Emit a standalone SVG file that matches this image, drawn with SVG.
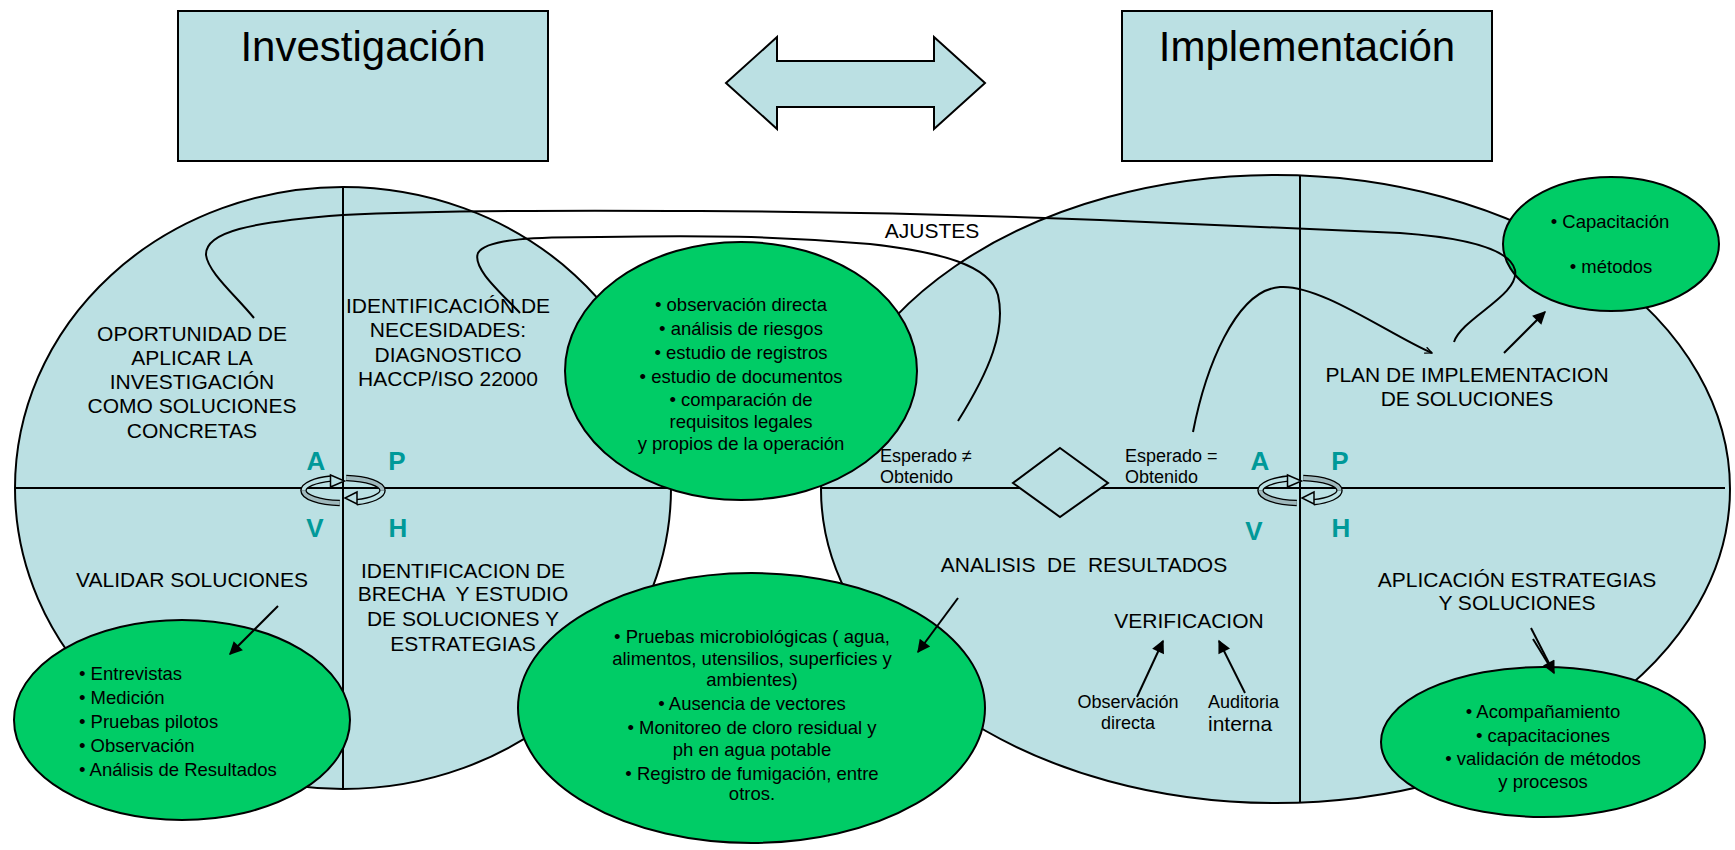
<svg xmlns="http://www.w3.org/2000/svg" width="1735" height="850" viewBox="0 0 1735 850">
<defs>
<style>
text{font-family:'Liberation Sans',Arial,sans-serif;fill:#000}
.c{text-anchor:middle}
.f42{font-size:42px}
.f21{font-size:21px}
.f18{font-size:18.5px}
.f17{font-size:18px}
.pdca{font-size:26px;font-weight:bold;fill:#009999;text-anchor:middle}
.lb{fill:#BBE0E3;stroke:#000;stroke-width:2}
.gr{fill:#00CC66;stroke:#000;stroke-width:2}
.ln{stroke:#000;stroke-width:2;fill:none}
.cn{stroke:#000;stroke-width:2;fill:none}
.ar{stroke:#000;stroke-width:2;fill:none;marker-end:url(#ah)}
</style>
<marker id="ah" viewBox="0 0 10 10" refX="9" refY="5" markerWidth="15" markerHeight="13" markerUnits="userSpaceOnUse" orient="auto">
<path d="M0,0 L10,5 L0,10 z" fill="#000"/>
</marker>
<marker id="ao" viewBox="0 0 10 10" refX="9" refY="5" markerWidth="9" markerHeight="8" markerUnits="userSpaceOnUse" orient="auto">
<path d="M0,1 L9,5 L0,9" fill="none" stroke="#000" stroke-width="1.6"/>
</marker>
<g id="cyc">
<path d="M-3.2,13 A39.5,12.5 0 0 1 -39.5,0.5 A39.5,12.5 0 0 1 -12,-11.4" fill="none" stroke="#000" stroke-width="6.5"/>
<path d="M3.2,-12 A39.5,12.5 0 0 1 39.5,0.5 A39.5,12.5 0 0 1 13.5,12.2" fill="none" stroke="#000" stroke-width="6.5"/>
<path d="M-3.2,13 A39.5,12.5 0 0 1 -39.5,0.5" fill="none" stroke="#9FB8BC" stroke-width="3.8"/>
<path d="M-39.5,0.5 A39.5,12.5 0 0 1 -12,-11.4" fill="none" stroke="#BBE0E3" stroke-width="3.8"/>
<path d="M3.2,-12 A39.5,12.5 0 0 1 39.5,0.5" fill="none" stroke="#9FB8BC" stroke-width="3.8"/>
<path d="M39.5,0.5 A39.5,12.5 0 0 1 13.5,12.2" fill="none" stroke="#BBE0E3" stroke-width="3.8"/>
<polygon points="-12.5,-15 1.5,-9 -12.5,-3" fill="#BBE0E3" stroke="#000" stroke-width="1.5"/>
<polygon points="14,2 2,8 14,14" fill="#BBE0E3" stroke="#000" stroke-width="1.5"/>
</g>
</defs>
<rect width="1735" height="850" fill="#fff"/>

<g id="box-investigacion">
<rect class="lb" x="178" y="11" width="370" height="150"/>
<text class="c f42" x="363" y="61">Investigación</text>
</g>
<g id="box-implementacion">
<rect class="lb" x="1122" y="11" width="370" height="150"/>
<text class="c f42" x="1307" y="61">Implementación</text>
</g>
<g id="double-arrow">
<polygon class="lb" points="726,83 777,37 777,61 934,61 934,37 985,83 934,129 934,107 777,107 777,129"/>
</g>

<g id="ciclo-investigacion">
<ellipse class="lb" cx="343" cy="488" rx="328" ry="301"/>
<line class="ln" x1="15" y1="488" x2="671" y2="488"/>
<line class="ln" x1="343" y1="187" x2="343" y2="789"/>
<text class="c f21" x="192" y="340.5">OPORTUNIDAD DE</text>
<text class="c f21" x="192" y="364.5">APLICAR LA</text>
<text class="c f21" x="192" y="388.5">INVESTIGACIÓN</text>
<text class="c f21" x="192" y="412.5">COMO SOLUCIONES</text>
<text class="c f21" x="192" y="437.5">CONCRETAS</text>
<text class="c f21" x="448" y="312.5">IDENTIFICACIÓN DE</text>
<text class="c f21" x="448" y="336.5">NECESIDADES:</text>
<text class="c f21" x="448" y="361.5">DIAGNOSTICO</text>
<text class="c f21" x="448" y="385.5">HACCP/ISO 22000</text>
<text class="c f21" x="192" y="586.5">VALIDAR SOLUCIONES</text>
<text class="c f21" x="463" y="577.5">IDENTIFICACION DE</text>
<text class="c f21" x="463" y="600.5" xml:space="preserve">BRECHA  Y ESTUDIO</text>
<text class="c f21" x="463" y="625.5">DE SOLUCIONES Y</text>
<text class="c f21" x="463" y="650.5">ESTRATEGIAS</text>
<text class="pdca" x="316" y="470">A</text>
<text class="pdca" x="397" y="470">P</text>
<text class="pdca" x="315" y="537">V</text>
<text class="pdca" x="398" y="537">H</text>
<use href="#cyc" transform="translate(343,490)"/>
</g>

<g id="ciclo-implementacion">
<ellipse class="lb" cx="1275.5" cy="489" rx="454.5" ry="314"/>
<line class="ln" x1="821" y1="488" x2="1725" y2="488"/>
<line class="ln" x1="1300" y1="176" x2="1300" y2="802"/>
<text class="f17" x="880" y="461.5">Esperado ≠</text>
<text class="f17" x="880" y="482.5">Obtenido</text>
<text class="f17" x="1125" y="461.5">Esperado =</text>
<text class="f17" x="1125" y="482.5">Obtenido</text>
<text class="c f21" x="1084" y="571.5" xml:space="preserve">ANALISIS  DE  RESULTADOS</text>
<text class="c f21" x="1189" y="627.5">VERIFICACION</text>
<text class="c f17" x="1128" y="707.5">Observación</text>
<text class="c f17" x="1128" y="728.5">directa</text>
<text class="f17" x="1208" y="707.5">Auditoria</text>
<text class="f21" x="1208" y="730.5">interna</text>
<text class="c f21" x="1467" y="381.5">PLAN DE IMPLEMENTACION</text>
<text class="c f21" x="1467" y="405.5">DE SOLUCIONES</text>
<text class="c f21" x="1517" y="586.5">APLICACIÓN ESTRATEGIAS</text>
<text class="c f21" x="1517" y="609.5">Y SOLUCIONES</text>
<text class="pdca" x="1260" y="470">A</text>
<text class="pdca" x="1340" y="470">P</text>
<text class="pdca" x="1254" y="540">V</text>
<text class="pdca" x="1341" y="537">H</text>
<use href="#cyc" transform="translate(1300,490)"/>
</g>

<g id="decision">
<polygon class="lb" points="1060,448 1108,483 1060,517 1013,483"/>
</g>

<g id="diagnostico">
<ellipse class="gr" cx="741" cy="371" rx="176" ry="129"/>
<text class="c f18" x="741" y="310.6">• observación directa</text>
<text class="c f18" x="741" y="334.6">• análisis de riesgos</text>
<text class="c f18" x="741" y="358.6">• estudio de registros</text>
<text class="c f18" x="741" y="382.6">• estudio de documentos</text>
<text class="c f18" x="741" y="405.6">• comparación de</text>
<text class="c f18" x="741" y="427.6">requisitos legales</text>
<text class="c f18" x="741" y="449.6">y propios de la operación</text>
</g>

<g id="pruebas">
<ellipse class="gr" cx="751.5" cy="708" rx="233.5" ry="135"/>
<text class="c f18" x="752" y="642.6">• Pruebas microbiológicas ( agua,</text>
<text class="c f18" x="752" y="664.6">alimentos, utensilios, superficies y</text>
<text class="c f18" x="752" y="685.6">ambientes)</text>
<text class="c f18" x="752" y="709.6">• Ausencia de vectores</text>
<text class="c f18" x="752" y="733.6">• Monitoreo de cloro residual y</text>
<text class="c f18" x="752" y="755.6">ph en agua potable</text>
<text class="c f18" x="752" y="779.6">• Registro de fumigación, entre</text>
<text class="c f18" x="752" y="799.6">otros.</text>
</g>

<g id="validacion">
<ellipse class="gr" cx="182" cy="720" rx="168" ry="100"/>
<text class="f18" x="79" y="679.6">• Entrevistas</text>
<text class="f18" x="79" y="703.6">• Medición</text>
<text class="f18" x="79" y="727.6">• Pruebas pilotos</text>
<text class="f18" x="79" y="751.6">• Observación</text>
<text class="f18" x="79" y="775.6">• Análisis de Resultados</text>
</g>

<g id="capacitacion">
<ellipse class="gr" cx="1611" cy="244" rx="108" ry="67"/>
<text class="c f18" x="1610" y="227.6">• Capacitación</text>
<text class="c f18" x="1611" y="272.6">• métodos</text>
</g>

<g id="acompanamiento">
<ellipse class="gr" cx="1543" cy="742" rx="162" ry="75"/>
<text class="c f18" x="1543" y="717.6">• Acompañamiento</text>
<text class="c f18" x="1543" y="741.6">• capacitaciones</text>
<text class="c f18" x="1543" y="764.6">• validación de métodos</text>
<text class="c f18" x="1543" y="787.6">y procesos</text>
</g>

<g id="connectors">
<path class="cn" d="M254,318 C235,295 208,272 206,255 C205,232 250,222 343,215 C420,211 550,210 700,211 C850,212 1000,216 1100,220 C1200,224 1300,228 1400,233 C1470,238 1510,250 1515,270 C1520,295 1462,318 1454,342"/>
<path class="cn" d="M520,313 C500,292 472,268 478,253 C486,238 540,237 600,237 C700,235 780,236 870,244 C940,252 990,265 998,295 C1006,330 990,370 958,421"/>
<text class="c f21" x="932" y="237.5">AJUSTES</text>
<path class="cn" d="M1193,432 C1205,370 1235,290 1280,287 C1320,284 1390,335 1432,353" marker-end="url(#ao)"/>
<line class="ar" x1="1504" y1="353" x2="1545" y2="312"/>
<line class="ar" x1="278" y1="606" x2="230" y2="654"/>
<line class="ar" x1="958" y1="598" x2="918" y2="652"/>
<line class="ar" x1="1137" y1="697" x2="1163" y2="641"/>
<line class="ar" x1="1245" y1="693" x2="1219" y2="641"/>
<line class="ar" x1="1531" y1="628" x2="1554" y2="673"/>
<line class="cn" x1="1533" y1="639" x2="1549" y2="665"/>
</g>
</svg>
